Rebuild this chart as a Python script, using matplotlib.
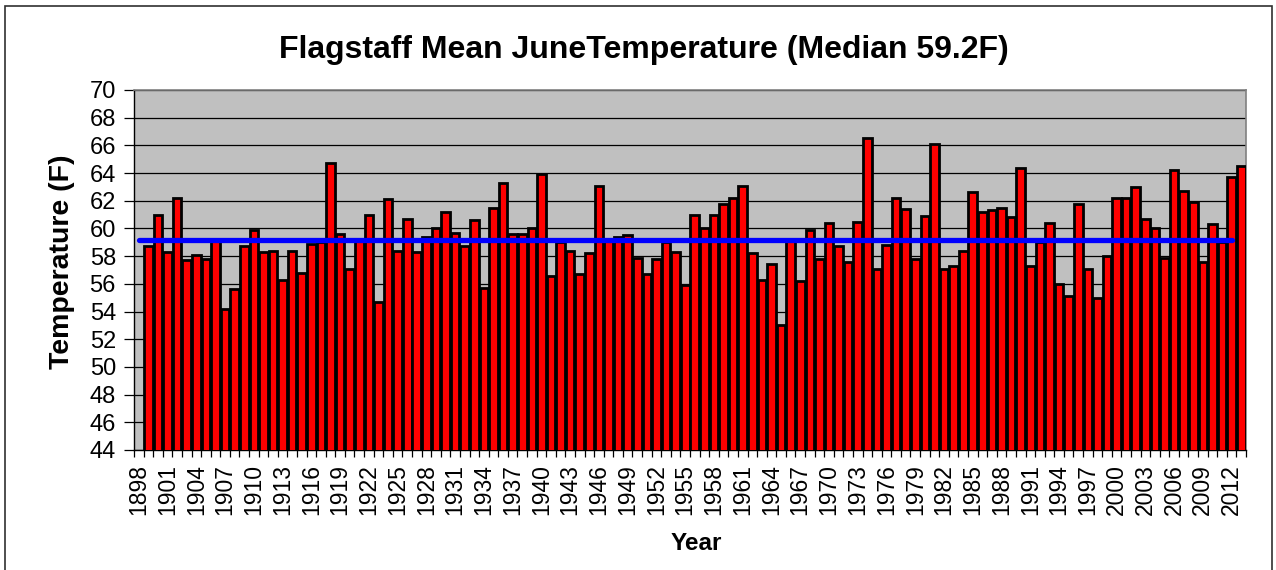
import matplotlib
matplotlib.use("Agg")
import matplotlib.pyplot as plt
from matplotlib.patches import Rectangle
from matplotlib.ticker import MultipleLocator, FixedLocator

plt.rcParams['font.family'] = ['Liberation Sans', 'DejaVu Sans']

# Data (mean June temperature, F); 1898 has no value
years = list(range(1899, 2014))
temps = [
    58.7, 61.0, 58.3, 62.2, 57.7, 58.1, 57.8, 59.1, 54.2, 55.6,   # 1899-1908
    58.7, 59.9, 58.3, 58.4, 56.3, 58.4, 56.8, 58.9, 59.0, 64.7,   # 1909-1918
    59.6, 57.1, 59.1, 61.0, 54.7, 62.1, 58.4, 60.7, 58.3, 59.4,   # 1919-1928
    60.0, 61.2, 59.7, 58.7, 60.6, 55.7, 61.5, 63.3, 59.6, 59.6,   # 1929-1938
    60.0, 63.9, 56.6, 59.0, 58.4, 56.7, 58.2, 63.1, 59.1, 59.4,   # 1939-1948
    59.5, 57.9, 56.7, 57.8, 59.0, 58.3, 55.9, 61.0, 60.0, 61.0,   # 1949-1958
    61.8, 62.2, 63.1, 58.2, 56.3, 57.4, 53.0, 59.1, 56.2, 59.9,   # 1959-1968
    57.8, 60.4, 58.7, 57.6, 60.5, 66.5, 57.1, 58.8, 62.2, 61.4,   # 1969-1978
    57.8, 60.9, 66.1, 57.1, 57.3, 58.4, 62.6, 61.2, 61.3, 61.5,   # 1979-1988
    60.8, 64.4, 57.3, 59.0, 60.4, 56.0, 55.1, 61.8, 57.1, 55.0,   # 1989-1998
    58.0, 62.2, 62.2, 63.0, 60.7, 60.0, 57.9, 64.2, 62.7, 61.9,   # 1999-2008
    57.6, 60.3, 59.0, 63.7, 64.5,                                 # 2009-2013
]
median_value = 59.2
median_start, median_end = 1898, 2012
tick_years = list(range(1898, 2013, 3))
title = "Flagstaff Mean JuneTemperature (Median 59.2F)"
xlabel = "Year"
ylabel = "Temperature (F)"

W, H = 1276, 570
fig = plt.figure(figsize=(W / 100, H / 100), dpi=100)
fig.patch.set_facecolor('white')

# outer border
fig.patches.append(Rectangle((5 / W, -0.01), (1272 - 5) / W, 1 - 6 / H + 0.01,
                             transform=fig.transFigure, fill=False,
                             edgecolor='#303030', linewidth=1.2))

ax = fig.add_axes([134 / W, (H - 450) / H, 1112 / W, 360 / H])
ax.set_facecolor('#C0C0C0')

ax.bar(years, temps, width=0.9, bottom=0, color='#FF0000',
       edgecolor='black', linewidth=2.0, zorder=3)
ax.hlines(median_value, median_start, median_end, colors='#0000FF',
          linewidth=3.8, zorder=4, capstyle='round')

ax.set_xlim(1897.5, 2013.5)
ax.set_ylim(44, 70)

ax.yaxis.set_major_locator(MultipleLocator(2))
ax.grid(axis='y', color='black', linewidth=0.9, zorder=1)
ax.set_axisbelow(True)

ax.xaxis.set_major_locator(FixedLocator(tick_years))
ax.xaxis.set_minor_locator(FixedLocator([y + 0.5 for y in range(1897, 2014)]))
ax.set_xticklabels([str(y) for y in tick_years], rotation=90, fontsize=16.5)
ax.tick_params(axis='x', which='major', length=0, pad=10)
ax.tick_params(axis='x', which='minor', length=5, width=0.9, color='black', direction='out')
ax.tick_params(axis='y', which='major', length=7, width=0.9, color='black',
               direction='out', labelsize=17, pad=6)

for s in ['top', 'right']:
    ax.spines[s].set_color('#808080')
    ax.spines[s].set_linewidth(1.2)
for s in ['left', 'bottom']:
    ax.spines[s].set_color('black')
    ax.spines[s].set_linewidth(1.0)

fig.text(644 / W, 1 - 50 / H, title, ha='center', va='center',
         fontsize=23, fontweight='bold')
fig.text(696 / W, 1 - 543 / H, xlabel, ha='center', va='center',
         fontsize=17.5, fontweight='bold')
fig.text(62 / W, 1 - 262 / H, ylabel, ha='center', va='center', rotation=90,
         fontsize=20.5, fontweight='bold')

fig.savefig('out.png', dpi=100)
